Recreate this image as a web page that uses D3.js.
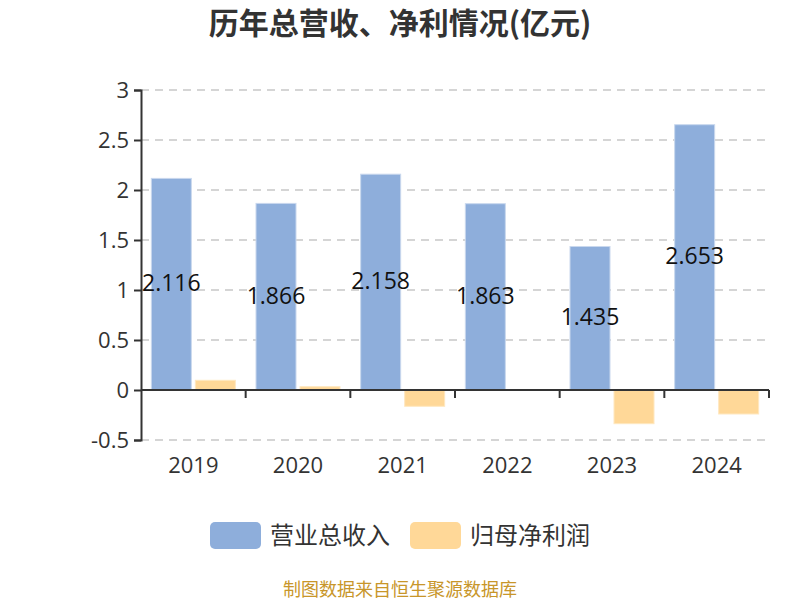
<!DOCTYPE html>
<html><head><meta charset="utf-8">
<script src="https://cdn.jsdelivr.net/npm/d3@7"></script>
<style>body{margin:0;background:#fff}svg{display:block}</style>
</head><body>
<svg id="c" width="800" height="600"></svg>
<script>
const years = ["2019","2020","2021","2022","2023","2024"];
const revenue = [2.116, 1.866, 2.158, 1.863, 1.435, 2.653];
const netProfit = [0.097, 0.033, -0.163, -0.005, -0.337, -0.24];
const yTicks = [-0.5, 0, 0.5, 1, 1.5, 2, 2.5, 3];
const seriesNames = ["营业总收入", "归母净利润"];
const colors = ["#8eaedb", "#ffd898"];

(function(){
const svg = d3.select("#c");
const pLeft = 141, pRight = 769, pTop = 90, pBottom = 440;
const numFont = "'Open Sans', 'Noto Sans', sans-serif";
const cjkFont = "'Noto Sans CJK SC', sans-serif";

const x = d3.scaleBand().domain(years).range([pLeft, pRight]);
const y = d3.scaleLinear().domain([-0.5, 3]).range([pBottom, pTop]);

// title
svg.append("text").attr("x", 400).attr("y", 34).attr("text-anchor", "middle")
  .attr("font-family", cjkFont).attr("font-weight", "bold").attr("font-size", 30)
  .attr("fill", "#333").text("历年总营收、净利情况(亿元)");

// grid
svg.append("g").selectAll("line").data(yTicks.filter(d => d !== 0)).join("line")
  .attr("x1", pLeft).attr("x2", pRight).attr("y1", d => y(d)).attr("y2", d => y(d))
  .attr("stroke", "#c8c8c8").attr("stroke-width", 1.5).attr("stroke-dasharray", "8,6");

// bars
const bw = 40, gap = 4;
const g = svg.append("g");
years.forEach((yr, i) => {
  const c = x(yr) + x.bandwidth() / 2;
  [revenue[i], netProfit[i]].forEach((v, s) => {
    const x0 = s === 0 ? c - gap / 2 - bw : c + gap / 2;
    g.append("rect").attr("x", x0).attr("width", bw)
      .attr("y", y(Math.max(v, 0))).attr("height", Math.abs(y(v) - y(0)))
      .attr("fill", colors[s]).attr("stroke", s === 0 ? "#c9d8ee" : "#ffe8c0").attr("stroke-width", 1);
  });
});

// y axis
const ya = d3.axisLeft(y).tickValues(yTicks).tickSize(7).tickPadding(5).tickFormat(d => d);
const yg = svg.append("g").attr("transform", `translate(${pLeft},0)`).call(ya);
yg.select(".domain").attr("stroke", "#333").attr("stroke-width", 2);
yg.selectAll(".tick line").attr("stroke", "#333").attr("stroke-width", 2);
yg.selectAll("text").attr("font-family", numFont).attr("font-size", 22).attr("fill", "#333");

// x axis
const xa = d3.axisBottom(x).tickSize(0).tickPadding(16);
const xg = svg.append("g").attr("transform", `translate(0,${y(0)})`).call(xa);
xg.select(".domain").attr("stroke", "#333").attr("stroke-width", 2).attr("d", `M${pLeft},0H${pRight}`);
xg.selectAll("text").attr("font-family", numFont).attr("font-size", 22).attr("fill", "#333")
  .attr("dy", "0.71em").attr("transform", `translate(0,${pBottom - y(0) + 1})`);
xg.selectAll(".bt").data(years).join("line")
  .attr("x1", d => x(d) + x.bandwidth()).attr("x2", d => x(d) + x.bandwidth())
  .attr("y1", 0).attr("y2", 8).attr("stroke", "#333").attr("stroke-width", 2);

// value labels
svg.append("g").selectAll("text").data(years).join("text")
  .attr("x", (d, i) => x(d) + x.bandwidth() / 2 - gap / 2 - bw / 2)
  .attr("y", (d, i) => (y(revenue[i]) + y(0)) / 2 - 1)
  .attr("dy", "0.35em").attr("text-anchor", "middle")
  .attr("font-family", numFont).attr("font-size", 23).attr("fill", "#111")
  .text((d, i) => revenue[i]);

// legend
const lg = svg.append("g");
const lx = [210, 410];
seriesNames.forEach((n, i) => {
  lg.append("rect").attr("x", lx[i]).attr("y", 522).attr("width", 51).attr("height", 27)
    .attr("rx", 5).attr("fill", colors[i]);
  lg.append("text").attr("x", lx[i] + 60).attr("y", 536).attr("dy", "0.35em")
    .attr("font-family", cjkFont).attr("font-size", 24).attr("fill", "#333").text(n);
});

// footer
svg.append("text").attr("x", 400).attr("y", 596).attr("text-anchor", "middle")
  .attr("font-family", cjkFont).attr("font-size", 18).attr("fill", "#c8962a")
  .text("制图数据来自恒生聚源数据库");
})();
</script>
</body></html>
